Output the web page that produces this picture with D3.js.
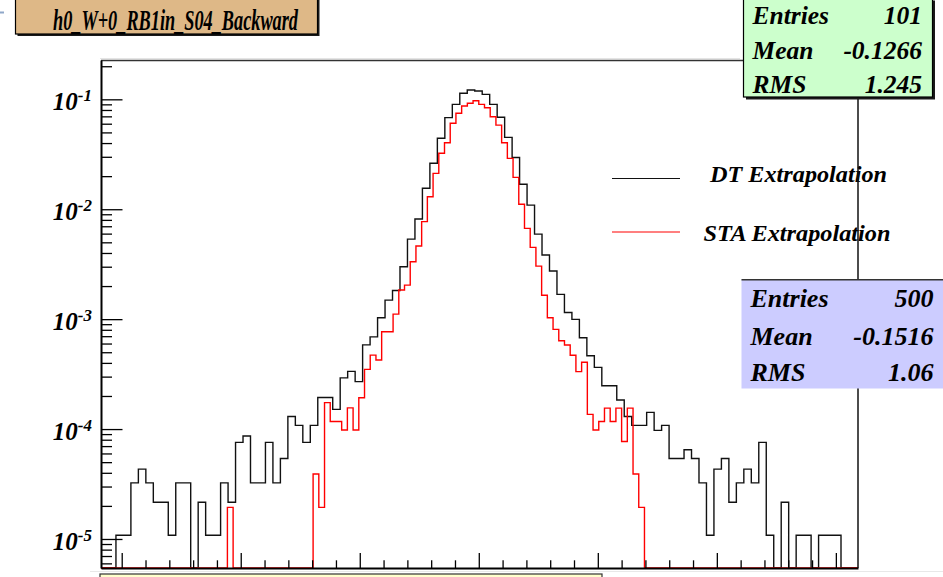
<!DOCTYPE html>
<html>
<head>
<meta charset="utf-8">
<script src="https://cdn.jsdelivr.net/npm/d3@7"></script>
<style>
  body { margin: 0; background: #fff; }
  svg { display: block; }
  text { font-family: "Liberation Serif", "Times New Roman", serif; font-weight: bold; font-style: italic; fill: #000; }
</style>
</head>
<body>
<div id="chart"></div>
<script>
// ---- data ----
var title = "h0_W+0_RB1in_S04_Backward";

// DT extrapolation histogram (black), 101 bins
var dtBinLow = -15.87, dtBinWidth = 0.314;
var dtValues = [
  0, 0, 1.08e-5, 1.08e-5, 3.24e-5, 4.32e-5, 3.24e-5, 2.16e-5, 2.16e-5, 1.08e-5,
  3.24e-5, 3.24e-5, 0, 2.16e-5, 1.08e-5, 1.08e-5, 3.24e-5, 2.16e-5, 7.56e-5, 8.64e-5,
  3.24e-5, 3.24e-5, 7.56e-5, 3.24e-5, 5.4e-5, 1.30e-4, 1.08e-4, 7.56e-5, 1.08e-4, 1.94e-4,
  1.94e-4, 1.51e-4, 2.92e-4, 3.35e-4, 2.70e-4, 5.83e-4, 6.9e-4, 1.03e-3, 1.49e-3, 1.82e-3,
  3.0e-3, 5.35e-3, 8.15e-3, 0.0155, 0.0262, 0.0442, 0.0681, 0.090, 0.1135, 0.1216,
  0.119, 0.111, 0.090, 0.0686, 0.0451, 0.0296, 0.0169, 0.0109, 5.94e-3, 3.83e-3,
  2.74e-3, 1.68e-3, 1.15e-3, 9.96e-4, 6.78e-4, 4.65e-4, 3.64e-4, 2.48e-4, 2.48e-4, 1.84e-4,
  1.30e-4, 1.08e-4, 1.08e-4, 1.42e-4, 9.72e-5, 1.08e-4, 5.4e-5, 5.4e-5, 6.48e-5, 5.4e-5,
  3.24e-5, 1.08e-5, 4.32e-5, 5.4e-5, 2.16e-5, 3.24e-5, 4.32e-5, 3.24e-5, 7.56e-5, 1.08e-5,
  0, 2.16e-5, 0, 1.08e-5, 1.08e-5, 0, 1.08e-5, 1.08e-5, 1.08e-5, 0,
  0
];

// STA extrapolation histogram (red), 100 bins
var staBinLow = -12, staBinWidth = 0.24;
var staValues = [
  0, 0, 0, 0, 0, 0, 1.94e-5, 0, 0, 0,
  0, 0, 0, 0, 0, 0, 0, 0, 0, 0,
  0, 3.9e-5, 1.94e-5, 1.74e-4, 1.17e-4, 1.17e-4, 9.8e-5, 1.56e-4, 9.8e-5, 1.93e-4,
  3.49e-4, 4.71e-4, 4.25e-4, 7.69e-4, 7.69e-4, 1.11e-3, 1.84e-3, 2.04e-3, 3.33e-3, 4.63e-3,
  7.71e-3, 0.0130, 0.0212, 0.0323, 0.0403, 0.0605, 0.0746, 0.0869, 0.092, 0.0972,
  0.090, 0.0839, 0.0695, 0.0583, 0.0403, 0.029, 0.0195, 0.0111, 6.7e-3, 4.5e-3,
  3.04e-3, 1.65e-3, 1.03e-3, 8.07e-4, 6.37e-4, 5.82e-4, 4.69e-4, 3.33e-4, 4.05e-4, 1.36e-4,
  9.8e-5, 1.17e-4, 1.55e-4, 1.17e-4, 1.55e-4, 7.7e-5, 1.55e-4, 3.9e-5, 1.94e-5, 0,
  0, 0, 0, 0, 0, 0, 0, 0, 0, 0,
  0, 0, 0, 0, 0, 0, 0, 0, 0, 0
];

var xDomain = [-15.87, 15.93];
var yDomain = [5.445e-6, 0.2279];
var xMajorTicks = [-15, -10, -5, 0, 5, 10, 15];
var yDecades = [-1, -2, -3, -4, -5];

var legendLabels = ["DT Extrapolation", "STA Extrapolation"];
var statLabels = ["Entries", "Mean", "RMS"];
var dtStats = ["101", "-0.1266", "1.245"];
var staStats = ["500", "-0.1516", "1.06"];

// ---- drawing ----
var W = 943, H = 577;
var L = 101, R = 858, T = 60, B = 568;

var svg = d3.select("#chart").append("svg")
    .attr("width", W)
    .attr("height", H)

var x = d3.scaleLinear().domain(xDomain).range([L, R]);
var y = d3.scaleLog().domain(yDomain).range([B, T]);

// pad bits around the frame
svg.append("line").attr("x1", 0).attr("x2", 4).attr("y1", 12.5).attr("y2", 12.5)
    .attr("stroke", "#8fa7c8").attr("stroke-width", 2);
svg.append("line").attr("x1", 100).attr("x2", 740).attr("y1", 58.5).attr("y2", 58.5)
    .attr("stroke", "#e4e4e4").attr("stroke-width", 1);
svg.append("line").attr("x1", 90).attr("x2", 943).attr("y1", 571.5).attr("y2", 571.5)
    .attr("stroke", "#e8e8e8").attr("stroke-width", 1);
svg.append("rect").attr("x", 100).attr("y", 574).attr("width", 502).attr("height", 8)
    .attr("fill", "#ffffcc").attr("stroke", "#333").attr("stroke-width", 1.2);

// histograms as step lines
function histPoints(low, width, vals) {
  var pts = [[xDomain[0], 0]];
  vals.forEach(function(v, i) { pts.push([low + i * width, v]); });
  pts.push([low + vals.length * width, 0]);
  pts.push([xDomain[1], 0]);
  return pts;
}
var step = d3.line()
    .curve(d3.curveStepAfter)
    .x(function(d) { return x(d[0]); })
    .y(function(d) { return d[1] > 0 ? Math.max(T, y(d[1])) : B; });

svg.append("path").datum(histPoints(dtBinLow, dtBinWidth, dtValues))
    .attr("d", step).attr("fill", "none").attr("stroke", "#111").attr("stroke-width", 1.4);
svg.append("path").datum(histPoints(staBinLow, staBinWidth, staValues))
    .attr("d", step).attr("fill", "none").attr("stroke", "#ff0000").attr("stroke-width", 1.4);

// legend
var legendColors = ["#111", "#ff0000"];
var legendY = [178.5, 232];
var legendTextX = [710, 703.5], legendTextY = [181.7, 241], legendTextW = [177, 187];
legendLabels.forEach(function(lab, i) {
  svg.append("line").attr("x1", 612).attr("x2", 680).attr("y1", legendY[i]).attr("y2", legendY[i])
      .attr("stroke", legendColors[i]).attr("stroke-width", 1.2);
  svg.append("text").attr("x", legendTextX[i]).attr("y", legendTextY[i])
      .attr("font-size", 23).attr("textLength", legendTextW[i]).attr("lengthAdjust", "spacingAndGlyphs")
      .text(lab);
});

// frame top / right
svg.append("line").attr("x1", L).attr("x2", R).attr("y1", T + 0.5).attr("y2", T + 0.5)
    .attr("stroke", "#333").attr("stroke-width", 1.5);
svg.append("line").attr("x1", R).attr("x2", R).attr("y1", T).attr("y2", B)
    .attr("stroke", "#111").attr("stroke-width", 1.5);

// y axis (ticks inside)
var yMajors = yDecades.map(function(e) { return Math.pow(10, e); });
var yMinors = [];
[-6, -5, -4, -3, -2, -1].forEach(function(e) {
  for (var m = 2; m <= 9; m++) {
    var v = m * Math.pow(10, e);
    if (v > yDomain[0] && v < yDomain[1]) yMinors.push(v);
  }
});
svg.append("g").attr("transform", "translate(" + L + ",0)")
    .call(d3.axisLeft(y).tickValues(yMinors).tickSize(-11).tickSizeOuter(0).tickFormat(""))
    .call(function(g) { g.selectAll("line").attr("stroke", "#000").attr("stroke-width", 1.3); g.select(".domain").remove(); });
svg.append("g").attr("transform", "translate(" + L + ",0)")
    .call(d3.axisLeft(y).tickValues(yMajors).tickSize(-21.5).tickSizeOuter(0).tickFormat(""))
    .call(function(g) {
      g.selectAll("line").attr("stroke", "#000").attr("stroke-width", 1.3);
      g.select(".domain").attr("stroke", "#000").attr("stroke-width", 2);
    });

// x axis (ticks inside)
var xMinors = d3.range(-15, 16).filter(function(v) { return v % 5 !== 0; });
svg.append("g").attr("transform", "translate(0," + B + ")")
    .call(d3.axisBottom(x).tickValues(xMinors).tickSize(-7.7).tickSizeOuter(0).tickFormat(""))
    .call(function(g) { g.selectAll("line").attr("stroke", "#000").attr("stroke-width", 1.3); g.select(".domain").remove(); });
svg.append("g").attr("transform", "translate(0," + B + ")")
    .call(d3.axisBottom(x).tickValues(xMajorTicks).tickSize(-15).tickSizeOuter(0).tickFormat(""))
    .call(function(g) {
      g.selectAll("line").attr("stroke", "#000").attr("stroke-width", 1.3);
      g.select(".domain").attr("stroke", "#000").attr("stroke-width", 2);
    });

// y tick labels 10^-n
yDecades.forEach(function(e) {
  var t = svg.append("text").attr("x", 92).attr("y", y(Math.pow(10, e)) + 11)
      .attr("text-anchor", "end").attr("font-size", 25);
  t.append("tspan").text("10");
  t.append("tspan").attr("font-size", 17).attr("dy", -9).text(e);
});

// title box
svg.append("rect").attr("x", 17.5).attr("y", 0).attr("width", 302).attr("height", 36).attr("fill", "#1a1a1a");
svg.append("rect").attr("x", 15.5).attr("y", -2).attr("width", 302).attr("height", 36)
    .attr("fill", "#deb887").attr("stroke", "#000").attr("stroke-width", 1.2);
svg.append("text").attr("x", 53).attr("y", 29.5).attr("font-size", 30)
    .attr("textLength", 245).attr("lengthAdjust", "spacingAndGlyphs").text(title);

// stats boxes
function statsBox(x0, y0, w, h, fill, vals, baselines, valueRight, fs, shadow) {
  if (shadow) {
    svg.append("rect").attr("x", x0 + 2.5).attr("y", y0 + 2.5).attr("width", w).attr("height", h).attr("fill", "#1a1a1a");
  }
  svg.append("rect").attr("x", x0).attr("y", y0).attr("width", w).attr("height", h)
      .attr("fill", fill).attr("stroke", shadow ? "#000" : "none").attr("stroke-width", 1.2);
  statLabels.forEach(function(lab, i) {
    svg.append("text").attr("x", x0 + 9).attr("y", baselines[i]).attr("font-size", fs).text(lab);
    svg.append("text").attr("x", valueRight).attr("y", baselines[i]).attr("font-size", fs)
        .attr("text-anchor", "end").text(vals[i]);
  });
}
statsBox(743.5, -2, 189, 99, "#ccffcc", dtStats, [24, 58.5, 93], 922, 25.5, true);
statsBox(741.5, 279.5, 210, 109, "#ccccff", staStats, [306.5, 345, 380.5], 933.5, 26, false);
svg.append("line").attr("x1", 741.5).attr("x2", 943).attr("y1", 279.8).attr("y2", 279.8)
    .attr("stroke", "#333").attr("stroke-width", 1.5);
</script>
</body>
</html>
